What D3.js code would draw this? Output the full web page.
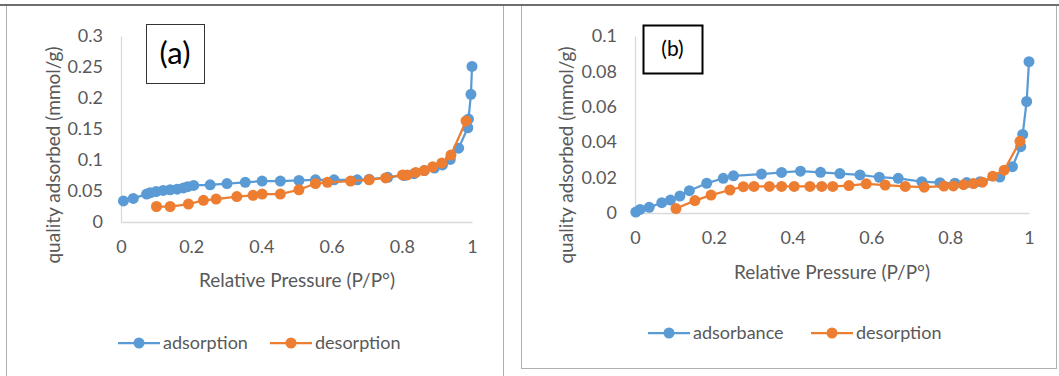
<!DOCTYPE html>
<html>
<head>
<meta charset="utf-8">
<script src="https://cdn.jsdelivr.net/npm/d3@7"></script>
<style>
  body { margin: 0; background: #fff; }
  svg text { font-family: Lato, "Open Sans", sans-serif; }
</style>
</head>
<body>
<div id="chart"></div>
<script>
// panel (a)
var aAdsX = [0.007, 0.035, 0.073, 0.083, 0.10, 0.12, 0.14, 0.16, 0.178, 0.19, 0.207, 0.254, 0.302, 0.354, 0.402, 0.454, 0.507, 0.554, 0.607, 0.673, 0.707, 0.76, 0.807, 0.835, 0.864, 0.893, 0.916, 0.938, 0.962, 0.988, 0.99, 0.997, 1.0];
var aAdsY = [0.034, 0.038, 0.045, 0.047, 0.049, 0.051, 0.052, 0.053, 0.055, 0.057, 0.059, 0.060, 0.062, 0.064, 0.066, 0.066, 0.067, 0.068, 0.068, 0.068, 0.069, 0.072, 0.075, 0.078, 0.083, 0.087, 0.092, 0.101, 0.119, 0.152, 0.166, 0.206, 0.251];
var aDesX = [0.101, 0.14, 0.192, 0.235, 0.271, 0.33, 0.376, 0.402, 0.454, 0.507, 0.554, 0.588, 0.654, 0.707, 0.754, 0.802, 0.816, 0.84, 0.864, 0.888, 0.914, 0.94, 0.983];
var aDesY = [0.025, 0.025, 0.029, 0.035, 0.037, 0.041, 0.043, 0.045, 0.045, 0.052, 0.062, 0.064, 0.066, 0.068, 0.071, 0.076, 0.076, 0.080, 0.083, 0.089, 0.095, 0.108, 0.163];
var aYTicks = [0, 0.05, 0.1, 0.15, 0.2, 0.25, 0.3];

// panel (b)
var bAdsX = [0.002, 0.013, 0.036, 0.068, 0.09, 0.114, 0.138, 0.182, 0.224, 0.25, 0.321, 0.372, 0.42, 0.471, 0.52, 0.571, 0.62, 0.668, 0.728, 0.774, 0.812, 0.842, 0.876, 0.926, 0.958, 0.979, 0.984, 0.994, 1.0];
var bAdsY = [0.0005, 0.002, 0.0032, 0.0058, 0.0073, 0.0096, 0.0126, 0.0168, 0.0196, 0.021, 0.022, 0.0229, 0.0236, 0.023, 0.0223, 0.0215, 0.0202, 0.0196, 0.0177, 0.0171, 0.0168, 0.0172, 0.0177, 0.0203, 0.0262, 0.0375, 0.0444, 0.063, 0.0855];
var bDesX = [0.104, 0.152, 0.193, 0.241, 0.275, 0.302, 0.341, 0.372, 0.404, 0.444, 0.474, 0.502, 0.543, 0.587, 0.635, 0.686, 0.734, 0.784, 0.808, 0.834, 0.859, 0.882, 0.908, 0.937, 0.977];
var bDesY = [0.0025, 0.007, 0.0101, 0.013, 0.0149, 0.015, 0.015, 0.015, 0.015, 0.015, 0.015, 0.015, 0.0155, 0.0165, 0.0158, 0.015, 0.0146, 0.0152, 0.0153, 0.016, 0.0166, 0.0174, 0.0208, 0.0242, 0.0405];
var bYTicks = [0, 0.02, 0.04, 0.06, 0.08, 0.1];

var xTicks = [0, 0.2, 0.4, 0.6, 0.8, 1];
var xTitle = 'Relative Pressure (P/P\u00B0)';
var yTitle = 'quality adsorbed (mmol/g)';

var blue = '#5b9bd5', orange = '#ed7d31', grey = '#595959', axisGrey = '#d9d9d9';

var svg = d3.select('#chart').append('svg')
    .attr('width', 1059)
    .attr('height', 376);

// frames
svg.append('rect').attr('x', 6.5).attr('y', 5.5).attr('width', 497).attr('height', 380)
    .attr('fill', 'none').attr('stroke', '#b0b0b0');
svg.append('rect').attr('x', 521.5).attr('y', 5.5).attr('width', 535).attr('height', 363)
    .attr('fill', 'none').attr('stroke', '#b0b0b0');
svg.append('line').attr('x1', 0).attr('x2', 1059).attr('y1', 5).attr('y2', 5)
    .attr('stroke', '#6e6e6e').attr('stroke-width', 2);

function zip(xs, ys) {
    return xs.map(function (d, i) { return [d, ys[i]]; });
}

function drawPanel(p) {
    var x = d3.scaleLinear().domain([0, 1]).range([p.x0, p.x1]);
    var y = d3.scaleLinear().domain([0, p.yMax]).range([p.y0, p.y1]);

    var g = svg.append('g');

    // x axis
    var gx = g.append('g')
        .attr('transform', 'translate(0,' + p.y0 + ')')
        .call(d3.axisBottom(x).tickValues(xTicks).tickSize(0).tickPadding(p.xPad)
            .tickFormat(function (d) { return d3.format('~g')(d); }));
    gx.select('.domain').attr('stroke', axisGrey).attr('stroke-width', 1.3);
    gx.selectAll('text').attr('fill', grey).attr('font-size', 18).attr('font-family', 'Lato');

    // y axis
    var gy = g.append('g')
        .attr('transform', 'translate(' + p.x0 + ',0)')
        .call(d3.axisLeft(y).tickValues(p.yTicks).tickSize(0).tickPadding(p.yPad)
            .tickFormat(function (d) { return d3.format('~g')(d); }));
    gy.select('.domain').attr('stroke', axisGrey).attr('stroke-width', 1.3);
    gy.selectAll('text').attr('fill', grey).attr('font-size', 18).attr('font-family', 'Lato');

    // titles
    g.append('text')
        .attr('x', p.xTitleX).attr('y', p.xTitleY)
        .attr('text-anchor', 'middle').attr('dy', '0.35em')
        .attr('fill', grey).attr('font-size', 19)
        .text(xTitle);
    g.append('text')
        .attr('transform', 'translate(' + p.yTitleX + ',' + p.yTitleY + ') rotate(-90)')
        .attr('text-anchor', 'middle').attr('dy', '0.35em')
        .attr('fill', grey).attr('font-size', 19)
        .text(yTitle);

    var line = d3.line()
        .x(function (d) { return x(d[0]); })
        .y(function (d) { return y(d[1]); });

    p.series.forEach(function (s) {
        var data = zip(s.xs, s.ys);
        g.append('path')
            .datum(data)
            .attr('fill', 'none')
            .attr('stroke', s.color)
            .attr('stroke-width', 2.25)
            .attr('d', line);
        g.append('g')
            .selectAll('circle')
            .data(data)
            .enter()
            .append('circle')
            .attr('cx', function (d) { return x(d[0]); })
            .attr('cy', function (d) { return y(d[1]); })
            .attr('r', 5.5)
            .attr('fill', s.color);
    });

    // label box
    g.append('rect')
        .attr('x', p.box[0] + 0.5).attr('y', p.box[1] + 0.5)
        .attr('width', p.box[2]).attr('height', p.box[3])
        .attr('fill', '#fff').attr('stroke', p.boxStroke).attr('stroke-width', p.boxStrokeW);
    g.append('text')
        .attr('x', p.box[0] + p.box[2] / 2).attr('y', p.box[1] + p.box[3] / 2)
        .attr('text-anchor', 'middle').attr('dy', '0.35em')
        .attr('font-family', p.labelFont).attr('font-size', p.labelSize)
        .attr('fill', '#000')
        .text(p.label);

    // legend
    var legend = g.append('g')
        .selectAll('g')
        .data(p.series)
        .enter()
        .append('g')
        .attr('transform', function (d, i) {
            return 'translate(' + p.legendX[i] + ',' + p.legendY + ')';
        });
    legend.append('line')
        .attr('x1', 0).attr('x2', 42)
        .attr('stroke', function (d) { return d.color; })
        .attr('stroke-width', 2.25);
    legend.append('circle')
        .attr('cx', 21).attr('r', 5.5)
        .attr('fill', function (d) { return d.color; });
    legend.append('text')
        .attr('x', 45).attr('dy', '0.35em')
        .attr('fill', grey).attr('font-size', 18)
        .text(function (d) { return d.name; });
}

drawPanel({
    x0: 121, x1: 472, y0: 222, y1: 36, yMax: 0.3, yTicks: aYTicks,
    xPad: 18, yPad: 18,
    xTitleX: 297, xTitleY: 280, yTitleX: 53, yTitleY: 155,
    box: [146, 24, 58, 59], boxStroke: '#333', boxStrokeW: 1,
    label: '(a)', labelFont: '"Liberation Serif", serif', labelSize: 31,
    legendX: [118, 270], legendY: 343,
    series: [
        {name: 'adsorption', color: blue, xs: aAdsX, ys: aAdsY},
        {name: 'desorption', color: orange, xs: aDesX, ys: aDesY}
    ]
});

drawPanel({
    x0: 635, x1: 1029, y0: 213, y1: 36, yMax: 0.1, yTicks: bYTicks,
    xPad: 18, yPad: 18,
    xTitleX: 832, xTitleY: 272, yTitleX: 566, yTitleY: 155,
    box: [643, 25, 59, 48], boxStroke: '#000', boxStrokeW: 2,
    label: '(b)', labelFont: 'Lato, sans-serif', labelSize: 21,
    legendX: [648, 811], legendY: 333,
    series: [
        {name: 'adsorbance', color: blue, xs: bAdsX, ys: bAdsY},
        {name: 'desorption', color: orange, xs: bDesX, ys: bDesY}
    ]
});
</script>
</body>
</html>
